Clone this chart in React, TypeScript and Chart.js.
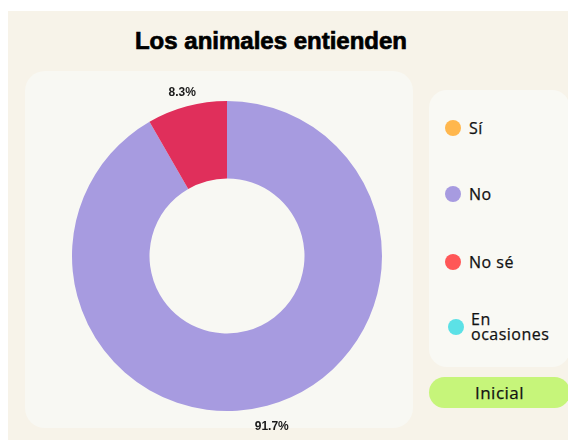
import React, { useEffect, useRef } from "react";
import { Chart, registerables } from "chart.js";

Chart.register(...registerables);

const labels = ["Sí", "No", "No sé", "En ocasiones"];
const values = [0, 11, 1, 0];
const sliceColors = ["#ffb74d", "#a79be0", "#e02f5b", "#5ce1e6"];
const legendColors = ["#ffb74d", "#a79be0", "#ff5757", "#5ce1e6"];
const title = "Los animales entienden";
const buttonText = "Inicial";

const pctLabels = {
  id: "pctLabels",
  afterDatasetsDraw(chart: any) {
    const { ctx } = chart;
    const meta = chart.getDatasetMeta(0);
    const total = values.reduce((a, b) => a + b, 0);
    ctx.save();
    ctx.font = "bold 12px 'Liberation Sans', Arial, sans-serif";
    ctx.fillStyle = "#1a1a1a";
    ctx.textAlign = "center";
    ctx.textBaseline = "middle";
    meta.data.forEach((arc: any, i: number) => {
      const v = values[i];
      if (!v) return;
      const { x, y, startAngle, endAngle, outerRadius } = arc.getProps(
        ["x", "y", "startAngle", "endAngle", "outerRadius"],
        true
      );
      const mid = (startAngle + endAngle) / 2;
      const r = outerRadius + 18;
      const txt = ((v / total) * 100).toFixed(1) + "%";
      ctx.fillText(txt, x + Math.cos(mid) * r, y + Math.sin(mid) * r + 3.5);
    });
    ctx.restore();
  },
};

export default function App() {
  const ref = useRef<HTMLCanvasElement | null>(null);
  useEffect(() => {
    if (!ref.current) return;
    const chart = new Chart(ref.current, {
      type: "doughnut",
      data: {
        labels,
        datasets: [
          {
            data: values,
            backgroundColor: sliceColors,
            borderWidth: 0,
          },
        ],
      },
      options: {
        responsive: false,
        maintainAspectRatio: false,
        animation: false,
        cutout: "50%",
        layout: { padding: 30 },
        plugins: {
          legend: { display: false },
          tooltip: { enabled: false },
        },
      },
      plugins: [pctLabels],
    });
    return () => chart.destroy();
  }, []);

  const legendFont = "'Open Sans', 'Noto Sans', sans-serif";
  const itemTops = [38, 104, 172];
  return (
    <div
      style={{
        position: "relative",
        marginTop: 3,
        width: 568,
        height: 429,
        background: "#f7f3e9",
        overflow: "hidden",
      }}
    >
      <div
        style={{
          position: "absolute",
          left: 0,
          top: 16,
          width: 526,
          textAlign: "center",
          font: "bold 24px 'Liberation Sans', Arial, sans-serif",
          lineHeight: "28px",
          color: "#000",
          WebkitTextStroke: "0.7px #000",
        }}
      >
        {title}
      </div>
      <div
        style={{
          position: "absolute",
          left: 17,
          top: 60,
          width: 388,
          height: 357,
          borderRadius: 20,
          background: "#f8f8f3",
        }}
      />
      <canvas
        ref={ref}
        width={370}
        height={370}
        style={{ position: "absolute", left: 34, top: 60, width: 370, height: 370 }}
      />
      <div
        style={{
          position: "absolute",
          left: 421,
          top: 79,
          width: 141,
          height: 277,
          borderRadius: 18,
          background: "#f9f9f4",
        }}
      >
        {labels.slice(0, 3).map((l, i) => (
          <div
            key={l}
            style={{
              position: "absolute",
              left: 16,
              top: itemTops[i] - 10,
              height: 20,
              display: "flex",
              alignItems: "center",
              font: `500 16px ${legendFont}`,
              letterSpacing: "0.5px",
              color: "#111",
              WebkitTextStroke: "0.25px #111",
            }}
          >
            <span
              style={{
                display: "inline-block",
                width: 16,
                height: 16,
                borderRadius: 8,
                background: legendColors[i],
                marginRight: 8,
              }}
            />
            {l}
          </div>
        ))}
        <div
          style={{
            position: "absolute",
            left: 19,
            top: 222,
            display: "flex",
            alignItems: "center",
            font: `500 16px ${legendFont}`,
            letterSpacing: "0.5px",
            lineHeight: "15px",
            color: "#111",
            WebkitTextStroke: "0.25px #111",
          }}
        >
          <span
            style={{
              display: "inline-block",
              width: 16,
              height: 16,
              borderRadius: 8,
              background: legendColors[3],
              marginRight: 7,
              flexShrink: 0,
            }}
          />
          <span>
            En
            <br />
            ocasiones
          </span>
        </div>
      </div>
      <div
        style={{
          position: "absolute",
          left: 421,
          top: 366,
          width: 141,
          height: 31,
          borderRadius: 16,
          background: "#c6f57a",
          display: "flex",
          alignItems: "center",
          justifyContent: "center",
          font: `500 17px ${legendFont}`,
          letterSpacing: "0.5px",
          color: "#111",
          WebkitTextStroke: "0.25px #111",
        }}
      >
        {buttonText}
      </div>
    </div>
  );
}
